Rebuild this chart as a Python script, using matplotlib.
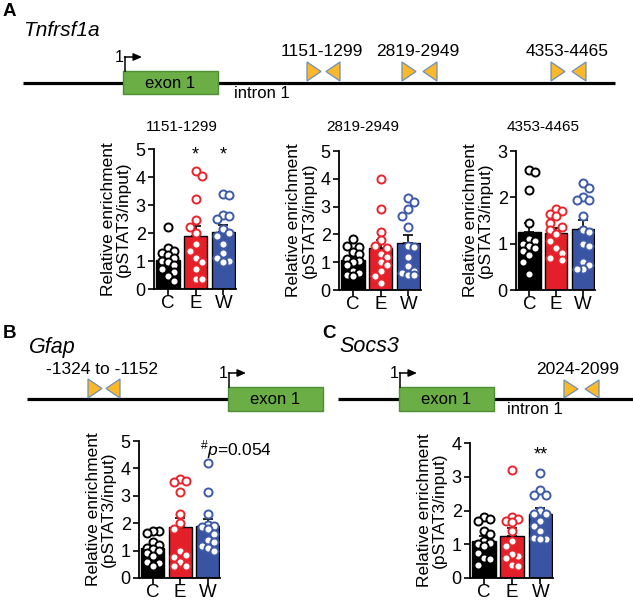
import numpy as np
import matplotlib
matplotlib.use("Agg")
import matplotlib.pyplot as plt
from matplotlib.patches import Rectangle, Polygon

plt.rcParams['font.family'] = ['Liberation Sans', 'DejaVu Sans']
plt.rcParams['mathtext.fontset'] = 'custom'
plt.rcParams['mathtext.rm'] = 'Liberation Sans'
plt.rcParams['mathtext.it'] = 'Liberation Sans:italic'

# ---------------- data ----------------
groups = ["C", "E", "W"]
bar_colors = ["#000000", "#e3202a", "#3a54a4"]
point_colors = ["#000000", "#e8252d", "#3f5aa8"]

# Panel A, Tnfrsf1a 1151-1299
a1_C = [2.2, 1.45, 1.35, 1.3, 1.2, 1.1, 1.0, 0.95, 0.85, 0.7, 0.6, 0.45, 0.3]
a1_E = [4.2, 4.05, 3.2, 2.45, 2.2, 2.0, 1.6, 1.35, 1.1, 0.95, 0.7, 0.35, 0.35]
a1_W = [3.4, 3.35, 2.65, 2.6, 2.5, 2.15, 2.0, 1.9, 1.6, 1.3, 1.1, 1.0, 0.95]
# Panel A, 2819-2949
a2_C = [1.85, 1.6, 1.55, 1.35, 1.3, 1.1, 1.05, 1.0, 0.9, 0.7, 0.6, 0.55, 0.5]
a2_E = [4.0, 2.9, 2.1, 1.8, 1.6, 1.5, 1.3, 1.2, 1.0, 0.9, 0.7, 0.5, 0.25]
a2_W = [3.3, 3.15, 2.9, 2.65, 2.25, 1.6, 1.55, 1.2, 0.85, 0.7, 0.6, 0.55, 0.55]
# Panel A, 4353-4465
a3_C = [2.6, 2.55, 2.15, 1.45, 1.1, 1.05, 1.0, 0.95, 0.9, 0.85, 0.75, 0.6, 0.35]
a3_E = [1.75, 1.7, 1.65, 1.6, 1.45, 1.35, 1.3, 1.2, 1.05, 0.9, 0.8, 0.7, 0.65]
a3_W = [2.3, 2.2, 2.0, 1.95, 1.95, 1.6, 1.3, 1.25, 1.0, 0.95, 0.6, 0.55, 0.45, 0.45]
# Panel B, Gfap
b_C = [1.7, 1.7, 1.65, 1.3, 1.2, 1.1, 1.05, 1.0, 0.9, 0.8, 0.6, 0.55, 0.45]
b_E = [3.6, 3.55, 3.5, 3.15, 2.35, 2.0, 1.8, 1.0, 0.85, 0.75, 0.6, 0.45, 0.45]
b_W = [4.2, 3.15, 2.35, 1.95, 1.9, 1.85, 1.8, 1.6, 1.4, 1.3, 1.15, 1.1, 1.0]
# Panel C, Socs3
c_C = [1.8, 1.75, 1.7, 1.4, 1.3, 1.1, 1.05, 1.0, 0.95, 0.75, 0.6, 0.55, 0.4]
c_E = [3.2, 1.8, 1.75, 1.7, 1.65, 1.4, 1.1, 0.95, 0.65, 0.7, 0.6, 0.4, 0.35]
c_W = [3.1, 2.6, 2.45, 2.45, 2.0, 1.9, 1.9, 1.7, 1.55, 1.4, 1.2, 1.15, 1.15]

a_region_labels = ["1151-1299", "2819-2949", "4353-4465"]
b_region_label = "-1324 to -1152"
c_region_label = "2024-2099"

W_PX, H_PX = 633, 600
fig = plt.figure(figsize=(W_PX / 100, H_PX / 100), dpi=100)

# background axes in pixel coordinates for the gene diagrams
bg = fig.add_axes([0, 0, 1, 1])
bg.set_xlim(0, W_PX)
bg.set_ylim(H_PX, 0)
bg.axis("off")

EXON_FC = "#6aae45"
EXON_EC = "#4f8f34"
TRI_FC = "#fbb829"
TRI_EC = "#6f8fb5"


def gene_line(x0, x1, y):
    bg.plot([x0, x1], [y, y], color="black", lw=2.3, solid_capstyle="butt", zorder=1)


def exon(x0, x1, y0, y1):
    bg.add_patch(Rectangle((x0, y0), x1 - x0, y1 - y0, facecolor=EXON_FC,
                           edgecolor=EXON_EC, lw=1.0, zorder=2))
    bg.text((x0 + x1) / 2, (y0 + y1) / 2 + 0.5, "exon 1", ha="center", va="center",
            fontsize=12, zorder=3)


def tss(x, ytop, yarm, xend):
    bg.plot([x, x], [ytop, yarm], color="black", lw=1.1, zorder=3)
    bg.annotate("", xy=(xend, yarm), xytext=(x - 0.5, yarm),
                arrowprops=dict(arrowstyle="-|>,head_length=0.5,head_width=0.22",
                                color="black", lw=1.1, shrinkA=0, shrinkB=0), zorder=3)
    bg.text(x - 1, yarm + 1, "1", ha="right", va="center", fontsize=11.5)


def primers(xr, xl, y0, y1, w=14):
    ym = (y0 + y1) / 2
    bg.add_patch(Polygon([[xr, y0], [xr, y1], [xr + w, ym]], closed=True,
                         facecolor=TRI_FC, edgecolor=TRI_EC, lw=0.9, zorder=3))
    bg.add_patch(Polygon([[xl + w, y0], [xl + w, y1], [xl, ym]], closed=True,
                         facecolor=TRI_FC, edgecolor=TRI_EC, lw=0.9, zorder=3))


# ---- Panel A diagram ----
bg.text(3, 11, "A", fontsize=13.5, fontweight="bold", ha="left", va="center")
bg.text(23, 30, "Tnfrsf1a", fontsize=15, style="italic", ha="left", va="center")
gene_line(23, 615, 83)
exon(123, 218, 71, 94)
tss(125, 71, 57, 142)
bg.text(262, 93, "intron 1", fontsize=12, ha="center", va="center")
for (xr, xl, xc), lab in zip([(307, 326, 322), (402, 423, 418), (551, 572, 567)], a_region_labels):
    primers(xr, xl, 62, 81)
    bg.text(xc, 52, lab, fontsize=12.5, ha="center", va="center")

# ---- Panel B diagram ----
bg.text(3, 333, "B", fontsize=13.5, fontweight="bold", ha="left", va="center")
bg.text(29, 347, "Gfap", fontsize=15.5, style="italic", ha="left", va="center")
gene_line(27, 228, 399)
exon(228, 323, 387, 411)
tss(229, 387, 373, 246)
primers(88, 106, 379, 398)
bg.text(102, 370, b_region_label, fontsize=12.5, ha="center", va="center")

# ---- Panel C diagram ----
bg.text(322, 333, "C", fontsize=13.5, fontweight="bold", ha="left", va="center")
bg.text(339, 347, "Socs3", fontsize=15.5, style="italic", ha="left", va="center")
gene_line(338, 633, 399)
exon(399, 494, 387, 411)
tss(400, 387, 373, 417)
bg.text(535, 410, "intron 1", fontsize=12, ha="center", va="center")
primers(564, 585, 380, 398)
bg.text(578, 370, c_region_label, fontsize=12.5, ha="center", va="center")

# ---- bar charts ----
XLIM = (-0.5, 2.45)
MS_PX = 8.0


def swarm_offsets(vals, px_x, px_y, d=MS_PX, maxoff=10.5):
    order = np.argsort(vals)[::-1]
    placed = []
    offs = np.zeros(len(vals))
    cands = [0.0]
    for k in range(1, 6):
        cands += [-k * d * 0.75, k * d * 0.75]
    cands = [c for c in cands if abs(c) <= maxoff]
    for i in order:
        yi = vals[i] * px_y
        best = None
        for c in cands:
            ok = all((c - px) ** 2 + (yi - py) ** 2 >= (d * 0.95) ** 2 for px, py in placed)
            if ok:
                best = c
                break
        if best is None:
            scores = []
            for c in cands:
                m = min(((c - px) ** 2 + (yi - py) ** 2) for px, py in placed)
                scores.append((m, -abs(c), c))
            best = max(scores)[2]
        placed.append((best, yi))
        offs[i] = best / px_x
    return offs


def bar_panel(rect_px, data, ymax):
    l, r, b, t = rect_px
    ax = fig.add_axes([l / W_PX, 1 - b / H_PX, (r - l) / W_PX, (b - t) / H_PX])
    px_x = (r - l) / (XLIM[1] - XLIM[0])
    px_y = (b - t) / ymax
    for i, vals in enumerate(data):
        vals = np.asarray(vals, float)
        m = vals.mean()
        sem = vals.std(ddof=1) / np.sqrt(len(vals))
        ax.bar(i, m, width=0.84, color=bar_colors[i], edgecolor="black", lw=1.0, zorder=1)
        ax.errorbar(i, m, yerr=[[0], [sem]], color="black", lw=1.2, capsize=3.5,
                    capthick=1.2, zorder=2)
        xs = i + swarm_offsets(vals, px_x, px_y)
        ax.plot(xs, vals, "o", ms=5.8, mfc="white", mec=point_colors[i], mew=1.4,
                ls="none", zorder=3, clip_on=False)
    ax.set_xlim(*XLIM)
    ax.set_ylim(0, ymax)
    ax.set_yticks(range(0, ymax + 1))
    ax.set_xticks(range(3))
    ax.set_xticklabels(groups, fontsize=13.5)
    ax.tick_params(axis="y", labelsize=13, length=4, width=1.2, pad=2)
    ax.tick_params(axis="x", length=4, width=1.2, pad=0.5)
    for s in ("top", "right"):
        ax.spines[s].set_visible(False)
    for s in ("left", "bottom"):
        ax.spines[s].set_linewidth(1.3)
    ax.set_ylabel("Relative enrichment\n(pSTAT3/input)", fontsize=12.5, linespacing=1.0,
                  labelpad=3)
    ax.patch.set_alpha(0)
    return ax


ax1 = bar_panel((154, 236, 289, 149), [a1_C, a1_E, a1_W], 5)
ax2 = bar_panel((339, 421, 290, 151), [a2_C, a2_E, a2_W], 5)
ax3 = bar_panel((516, 595, 290, 151), [a3_C, a3_E, a3_W], 3)
axB = bar_panel((139, 220, 578, 441), [b_C, b_E, b_W], 5)
axC = bar_panel((470, 553, 578, 443), [c_C, c_E, c_W], 4)

for xc, lab in zip([182, 363, 543], a_region_labels):
    bg.text(xc, 127, lab, fontsize=11, ha="center", va="center")

ax1.text(1, 4.62, "*", ha="center", va="baseline", fontsize=13)
ax1.text(2, 4.62, "*", ha="center", va="baseline", fontsize=13)
axC.text(2, 3.5, "**", ha="center", va="baseline", fontsize=13)
axB.text(1.72, 4.7, r"$^{\#}\mathit{p}$=0.054", ha="left", va="center", fontsize=12.5)

fig.savefig("out.png", dpi=100)
